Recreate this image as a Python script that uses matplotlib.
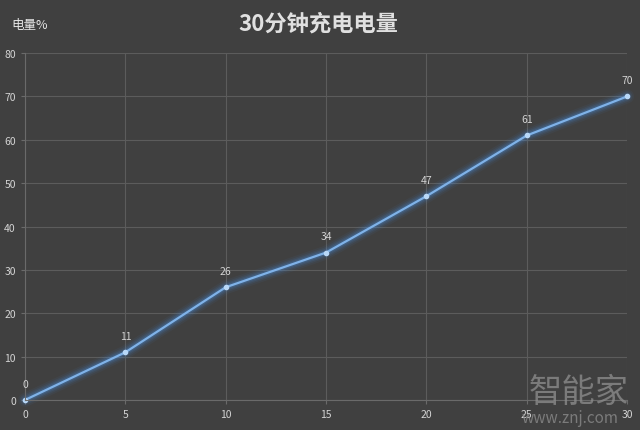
import matplotlib
matplotlib.use("Agg")
import matplotlib.pyplot as plt

plt.rcParams['font.family'] = ['Noto Sans CJK SC', 'DejaVu Sans']

minutes = [0, 5, 10, 15, 20, 25, 30]
charge = [0, 11, 26, 34, 47, 61, 70]
yticks = [0, 10, 20, 30, 40, 50, 60, 70, 80]

bg = '#404040'
txt = '#d4d4d4'

fig = plt.figure(figsize=(6.4, 4.31), dpi=100, facecolor=bg)
ax = fig.add_axes([0.039, 0.0696, 0.941, 0.805], facecolor=bg)

ax.set_xlim(0, 30)
ax.set_ylim(0, 80)
ax.set_xticks(minutes)
ax.set_yticks(yticks)
ax.grid(color='#5c5c5c', linewidth=0.8)
ax.set_axisbelow(True)
for s in ['top', 'right']:
    ax.spines[s].set_visible(False)
ax.spines['left'].set_color('#6a6a6a')
ax.spines['bottom'].set_color('#6a6a6a')
ax.tick_params(colors='#6a6a6a', labelcolor=txt, labelsize=7.5, length=3, width=0.8)

# glow around the line
for lw, a in [(10, 0.06), (7.5, 0.09), (5.5, 0.13), (3.5, 0.2)]:
    ax.plot(minutes, charge, color='#4a90e2', linewidth=lw, alpha=a,
            solid_capstyle='round', clip_on=False)
ax.plot(minutes, charge, color='#7fb2e8', linewidth=1.6, clip_on=False)
ax.plot(minutes, charge, 'o', color='#b8d8f8', markersize=3, clip_on=False)

for x, y in zip(minutes, charge):
    ax.annotate(str(y), (x, y), xytext=(0, 8), textcoords='offset points',
                ha='center', va='bottom', color=txt, fontsize=7.5)

fig.text(0.497, 0.945, '30分钟充电电量', ha='center', va='center',
         color='#e0e0e0', fontsize=16, fontweight='bold')
fig.text(0.018, 0.94, '电量%', ha='left', va='center', color='#e8e8e8', fontsize=9)

fig.text(0.905, 0.09, '智能家', ha='center', va='center', color='#8a8a8a',
         fontsize=24, alpha=0.8)
fig.text(0.89, 0.028, 'www.znj.com', ha='center', va='center', color='#8a8a8a',
         fontsize=11, alpha=0.8)

fig.savefig('out.png', dpi=100, facecolor=bg)
